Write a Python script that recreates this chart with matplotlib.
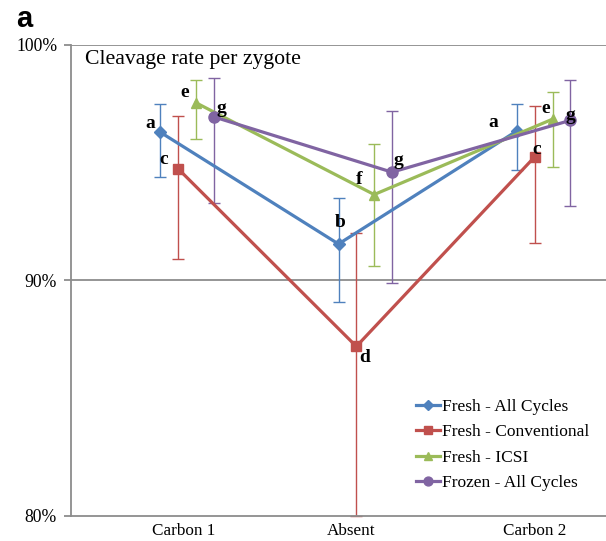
import numpy as np
import matplotlib
matplotlib.use("Agg")
import matplotlib.pyplot as plt
from matplotlib.lines import Line2D

# ---- data -------------------------------------------------------------
categories = ["Carbon 1", "Absent", "Carbon 2"]
series_names = ["Fresh - All Cycles", "Fresh - Conventional", "Fresh - ICSI", "Frozen - All Cycles"]

fresh_all = [96.3, 91.55, 96.35]
fresh_all_hi = [97.5, 93.5, 97.5]
fresh_all_lo = [94.4, 89.1, 94.7]

fresh_conv = [94.75, 87.2, 95.25]
fresh_conv_hi = [97.0, 92.0, 97.4]
fresh_conv_lo = [90.9, 80.0, 91.6]

fresh_icsi = [97.55, 93.65, 96.85]
fresh_icsi_hi = [98.5, 95.8, 98.0]
fresh_icsi_lo = [96.0, 90.6, 94.8]

frozen_all = [96.95, 94.6, 96.8]
frozen_all_hi = [98.6, 97.2, 98.5]
frozen_all_lo = [93.3, 89.9, 93.15]

sig_letters = [["a", "b", "a"], ["c", "d", "c"], ["e", "f", "e"], ["g", "g", "g"]]

y_ticks = [80, 90, 100]
y_ticklabels = ["80%", "90%", "100%"]

# ---- styling ----------------------------------------------------------
colors = ["#4F81BD", "#C0504D", "#9BBB59", "#8064A2"]
markers = ["D", "s", "^", "o"]
msizes = [6, 7.5, 7.5, 8]
series_shift = [0.0, 0.1, 0.2, 0.3]
# letter offsets (pixels: right, up) for each series / category
letter_off = [
    [(-10, 9), (2, 21), (-24, 8)],
    [(-14, 9), (8, -11), (2, 7)],
    [(-11, 10), (-15, 15), (-7, 11)],
    [(8, 8), (6, 12), (0, 5)],
]
tick_pos = [0.13, 1.07, 2.1]
grey = "#8C8C8C"
serif = ["Liberation Serif", "DejaVu Serif"]

values = [fresh_all, fresh_conv, fresh_icsi, frozen_all]
highs = [fresh_all_hi, fresh_conv_hi, fresh_icsi_hi, frozen_all_hi]
lows = [fresh_all_lo, fresh_conv_lo, fresh_icsi_lo, frozen_all_lo]

fig = plt.figure(figsize=(6.06, 5.41), dpi=100)
ax = fig.add_axes([71 / 606, 25 / 541, 535 / 606, 471 / 541])

x = np.arange(len(categories))
handles = []
for i in range(4):
    xs = x + series_shift[i]
    v = np.array(values[i])
    err = np.vstack([v - np.array(lows[i]), np.array(highs[i]) - v])
    ax.errorbar(xs, v, yerr=err, fmt="none", ecolor=colors[i], elinewidth=1.0,
                capsize=4.5, capthick=1.0, zorder=2, clip_on=False)
    ax.plot(xs, v, color=colors[i], lw=2.3, marker=markers[i], ms=msizes[i],
            mec=colors[i], mfc=colors[i], zorder=3)
    for j in range(len(categories)):
        dx, dy = letter_off[i][j]
        ax.annotate(sig_letters[i][j], (xs[j], v[j]), xytext=(dx * 0.72, dy * 0.72),
                    textcoords="offset points", ha="center", va="center",
                    fontsize=14, fontweight="bold", family=serif, zorder=5)
    handles.append(Line2D([], [], color=colors[i], lw=2.3, marker=markers[i],
                          ms=msizes[i] * 0.8, mec=colors[i], mfc=colors[i]))

ax.set_xlim(-0.5, 2.5)
ax.set_ylim(80, 100)
ax.set_yticks(y_ticks)
ax.set_yticklabels(y_ticklabels, family=serif, fontsize=12.7)
ax.set_xticks(tick_pos)
ax.set_xticklabels(categories, family=serif, fontsize=12.3)
ax.tick_params(axis="x", length=0, pad=5)
ax.tick_params(axis="y", length=5, width=1.3, color=grey, pad=5)
for y in [90, 100]:
    ax.axhline(y, color=grey, lw=1.3, zorder=1)
for s in ["top", "right"]:
    ax.spines[s].set_visible(False)
for s in ["left", "bottom"]:
    ax.spines[s].set_color(grey)
    ax.spines[s].set_linewidth(1.3)

ax.text(0.026, 0.99, "Cleavage rate per zygote", transform=ax.transAxes,
        ha="left", va="top", fontsize=15.7, family=serif)

leg = ax.legend(handles, series_names, loc="upper left",
                bbox_to_anchor=(0.645, 0.249), frameon=False,
                prop={"family": serif, "size": 12.5}, handlelength=1.38,
                handletextpad=0.1, labelspacing=0.54, borderpad=0,
                borderaxespad=0)

fig.text(16 / 606, 1 - 27 / 541, "a", ha="left", va="baseline", fontsize=21,
         fontweight="bold", family=["Liberation Sans", "DejaVu Sans"])

fig.savefig("out.png", dpi=100)
